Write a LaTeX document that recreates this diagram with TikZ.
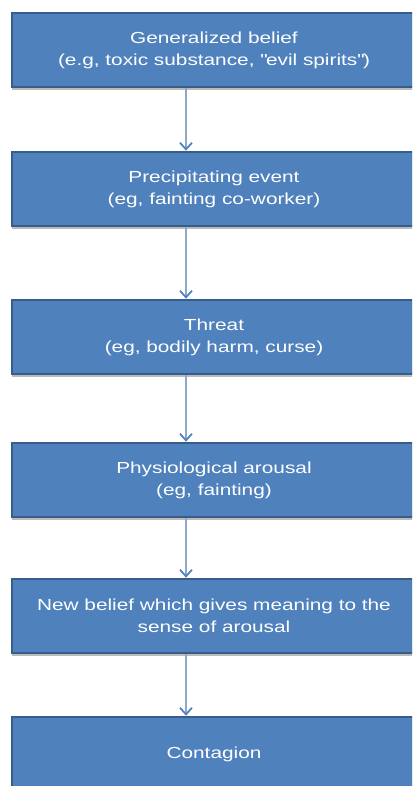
\documentclass[tikz,border=0pt]{standalone}
\usepackage{fontspec}
\setmainfont{Liberation Sans}[FakeStretch=1.3]
\usepackage{tikz}
\usetikzlibrary{arrows.meta, shadows}
\definecolor{boxfill}{HTML}{4F81BD}
\definecolor{boxline}{HTML}{385D8A}
\definecolor{flowline}{HTML}{8EA9C8}

\begin{document}
\begin{tikzpicture}[x=0.75pt,y=0.75pt,yscale=-1,xscale=1,
  stage/.style={draw=boxline, line width=1.5pt, fill=boxfill, text=white,
    minimum width=303pt, minimum height=56pt, inner sep=0pt, align=center,
    font=\fontsize{12}{16.5}\selectfont,
    drop shadow={shadow xshift=0pt, shadow yshift=-2pt, fill=black!45, opacity=0.6}},
  flow/.style={draw=flowline, line width=2.2pt,
    -{Straight Barb[length=5pt,width=9pt,line width=1.3pt,color=boxfill]}}]
%set diagram to 412 x 786
\useasboundingbox (0,0) rectangle (412,786);
\clip (0,0) rectangle (412,786);

% Stages
\node [stage] (gen) at (214,50) {Generalized belief\\(e.g, toxic substance, \textquotedbl evil spirits\textquotedbl)};
\node [stage] (prec) at (214,189) {Precipitating event\\(eg, fainting co-worker)};
\node [stage] (threat) at (214,337) {Threat\\(eg, bodily harm, curse)};
\node [stage] (phys) at (214,480) {Physiological arousal\\(eg, fainting)};
\node [stage] (newb) at (214,616) {New belief which gives meaning to the\\sense of arousal};
\node [stage] (cont) at (214,754) {Contagion};

% Arrows
\coordinate (ax) at (186,0);
\draw [flow] (gen.south -| ax) -- (prec.north -| ax);
\draw [flow] (prec.south -| ax) -- (threat.north -| ax);
\draw [flow] (threat.south -| ax) -- (phys.north -| ax);
\draw [flow] (phys.south -| ax) -- (newb.north -| ax);
\draw [flow] (newb.south -| ax) -- (cont.north -| ax);

\end{tikzpicture}
\end{document}
